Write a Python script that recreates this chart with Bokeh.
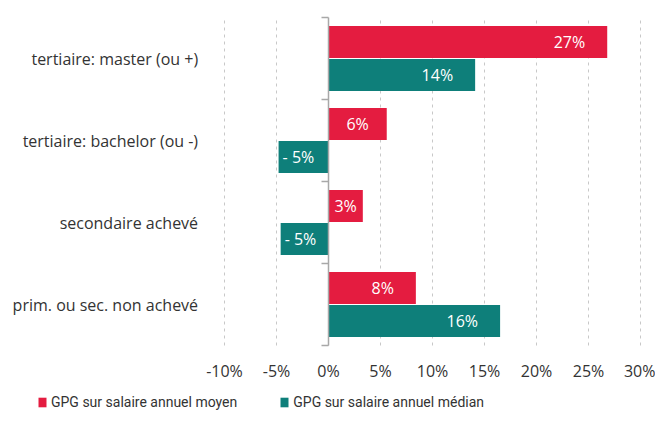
from bokeh.plotting import figure
from bokeh.models import (ColumnDataSource, FixedTicker, LinearAxis, Legend, LegendItem,
                          Range1d, Grid)
from bokeh.core.properties import value
from bokeh.embed import file_html
from bokeh.resources import INLINE

# ---- data (bottom to top) ----
categories = ["prim. ou sec. non achevé", "secondaire achevé",
              "tertiaire: bachelor (ou -)", "tertiaire: master (ou +)"]
moyen = [8.4, 3.3, 5.6, 26.8]
median = [16.5, -4.6, -4.8, 14.1]
moyen_labels = ["8%", "3%", "6%", "27%"]
median_labels = ["16%", "- 5%", "- 5%", "14%"]
x_ticks = [-10, -5, 0, 5, 10, 15, 20, 25, 30]
series_names = ["GPG sur salaire annuel moyen", "GPG sur salaire annuel médian"]

# ---- styling / layout ----
RED = "#E41C40"
TEAL = "#0E7F7A"
FONT = "Open Sans"
W, H = 655, 412
SX = 10.4          # px per percent
ZERO_PX = 328      # px position of 0 %
SY = 82            # px per category
TOP_PX = 17        # px from top to upper end of the category band
BAR_H = 0.39
OFF = 0.2
N = len(categories)
LABEL_AXIS_AT = -11


def label_layout(values):
    lx, xo, al = [], [], []
    for v in values:
        if v < 0:
            lx.append(v); xo.append(4); al.append("left")
        elif v < 7:
            lx.append(v / 2); xo.append(0); al.append("center")
        else:
            lx.append(v); xo.append(-22); al.append("right")
    return lx, xo, al


idx = list(range(N))
src_m = ColumnDataSource(dict(y=[i + 0.5 + OFF for i in idx], v=moyen, lab=moyen_labels))
src_d = ColumnDataSource(dict(y=[i + 0.5 - OFF for i in idx], v=median, lab=median_labels))
for src, vals in ((src_m, moyen), (src_d, median)):
    lx, xo, al = label_layout(vals)
    src.data["lx"] = lx
    src.data["xo"] = xo
    src.data["al"] = al

x_range = Range1d(-ZERO_PX / SX, (W - ZERO_PX) / SX)
y_range = Range1d(N - (H - TOP_PX) / SY, N + TOP_PX / SY)

p = figure(width=W, height=H, output_backend="svg", toolbar_location=None,
           x_range=x_range, y_range=y_range,
           x_axis_location=None, y_axis_location=None,
           min_border=0, min_border_left=0, min_border_right=0,
           min_border_top=0, min_border_bottom=0)
p.outline_line_color = None
p.background_fill_color = "white"
p.border_fill_color = "white"
p.grid.visible = False

# dashed vertical grid lines limited to the category band
grid_kw = dict(dimension=0, ticker=FixedTicker(ticks=x_ticks), grid_line_color="#c8c8c8",
               grid_line_dash="3 4", grid_line_width=1)
if "cross_bounds" in Grid.properties():
    p.add_layout(Grid(cross_bounds=(0, N), **grid_kw))
else:
    p.segment(x0=x_ticks, x1=x_ticks, y0=[0] * len(x_ticks), y1=[N] * len(x_ticks),
              line_color="#c8c8c8", line_dash="3 4", line_width=1)

# x axis (tick labels under the band)
xa = LinearAxis(fixed_location=0, ticker=FixedTicker(ticks=x_ticks))
xa.major_label_overrides = {t: f"{t}%" for t in x_ticks}
xa.axis_line_color = None
xa.major_tick_line_color = None
xa.minor_tick_line_color = None
xa.major_label_standoff = 8
xa.major_label_text_font = FONT
xa.major_label_text_font_size = "16px"
xa.major_label_text_color = "#333333"
p.add_layout(xa, "below")

# category axis
ya = LinearAxis(fixed_location=LABEL_AXIS_AT, ticker=FixedTicker(ticks=[i + 0.5 for i in idx]))
ya.major_label_overrides = {i + 0.5: c for i, c in zip(idx, categories)}
ya.axis_line_color = None
ya.major_tick_line_color = None
ya.minor_tick_line_color = None
ya.major_label_standoff = 10
ya.major_label_text_font = FONT
ya.major_label_text_font_size = "16px"
ya.major_label_text_color = "#333333"
p.add_layout(ya, "left")

# bars
r1 = p.hbar(y="y", left=0, right="v", height=BAR_H, source=src_m,
            fill_color=RED, line_color=None)
r2 = p.hbar(y="y", left=0, right="v", height=BAR_H, source=src_d,
            fill_color=TEAL, line_color=None)

# zero axis with category separator ticks
za = LinearAxis(fixed_location=0, ticker=FixedTicker(ticks=list(range(N + 1))), bounds=(0, N))
za.axis_line_color = "#a8a8a8"
za.axis_line_width = 1.5
za.major_tick_line_color = "#a8a8a8"
za.major_tick_line_width = 1.5
za.major_tick_out = 7
za.major_tick_in = 0
za.minor_tick_line_color = None
za.major_label_text_font_size = "0px"
za.major_label_text_alpha = 0
p.add_layout(za, "left")

# value labels
for src in (src_m, src_d):
    p.text(x="lx", y="y", text="lab", x_offset="xo", text_align="al",
           text_baseline="middle", text_color="white",
           text_font=value(FONT), text_font_size="16px", source=src)

legend = Legend(items=[LegendItem(label=series_names[0], renderers=[r1]),
                       LegendItem(label=series_names[1], renderers=[r2])],
                orientation="horizontal", location=(37, 2),
                padding=0, margin=0, spacing=42, glyph_width=10, glyph_height=12,
                label_standoff=4, border_line_color=None, background_fill_alpha=0,
                label_text_font="Roboto", label_text_font_size="14px",
                label_text_color="#333333")
p.add_layout(legend)

open("out.html", "w").write(file_html(p, INLINE))
